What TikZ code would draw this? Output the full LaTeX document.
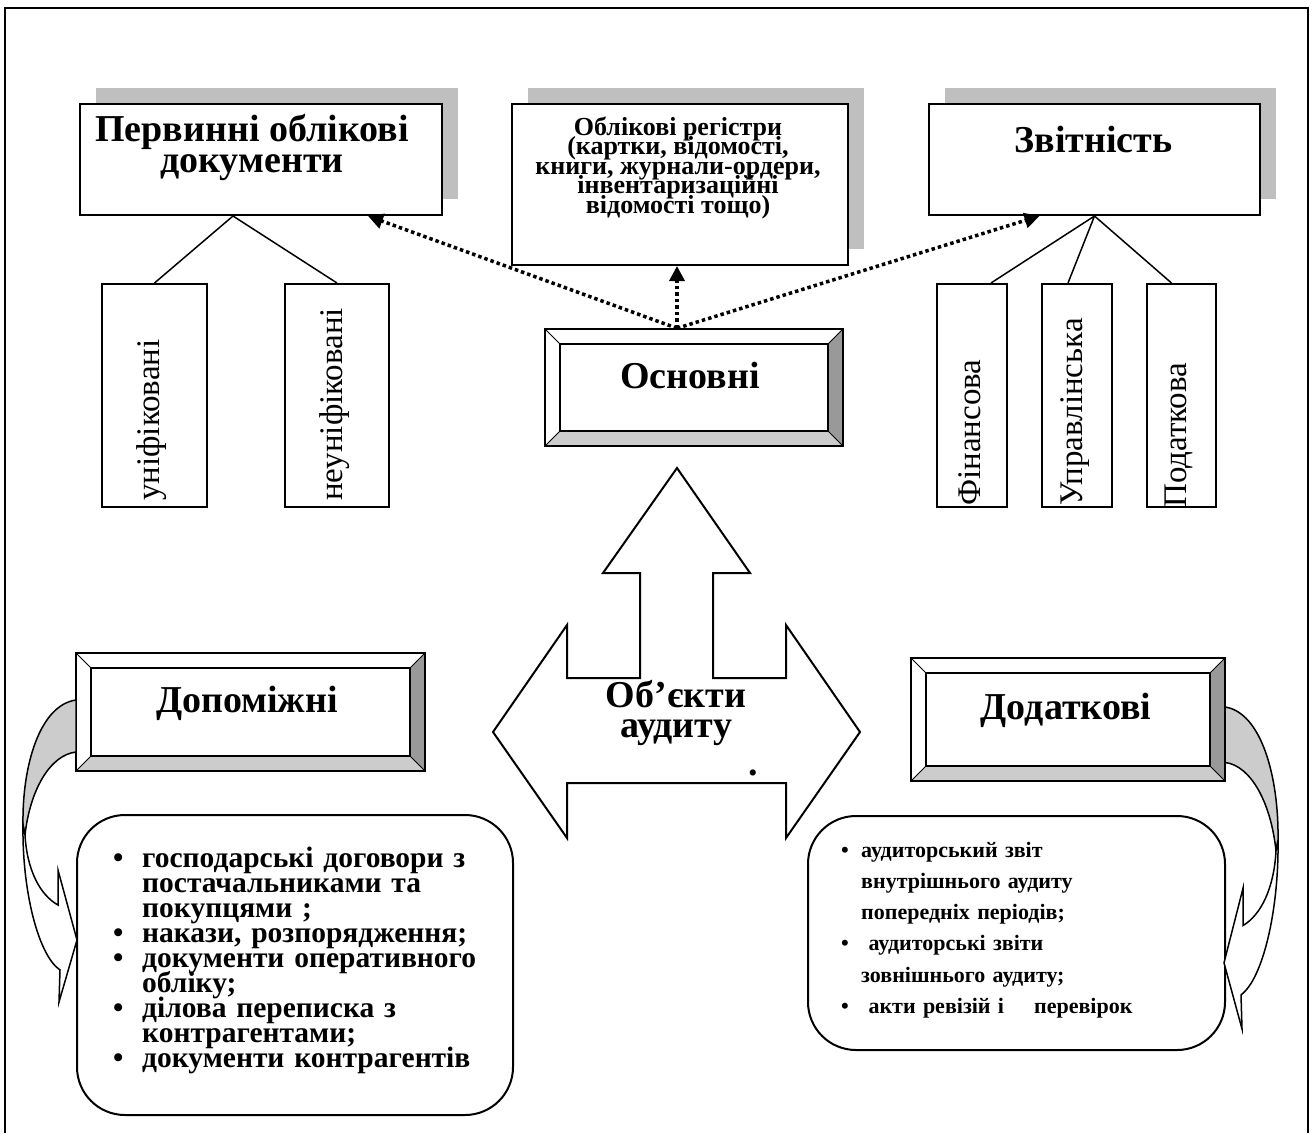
\documentclass[tikz,border=0pt]{standalone}
\usepackage{fontspec}
\setmainfont{Liberation Serif}
\usetikzlibrary{positioning,arrows.meta,shadows}
\setlength{\lineskiplimit}{-1000pt}
\newcommand\bulmark[1]{\makebox[#1][l]{•}}

\tikzset{
  box/.style={draw, line width=2pt, fill=white, inner sep=0pt},
  topbox/.style={box, general shadow={fill=gray!50, shadow xshift=16pt, shadow yshift=16pt}},
  sidebox/.style={box, minimum height=223pt},
  bevel/.style={box, line width=1.5pt, path picture={
      \coordinate (nw) at (path picture bounding box.north west);
      \coordinate (ne) at (path picture bounding box.north east);
      \coordinate (sw) at (path picture bounding box.south west);
      \coordinate (se) at (path picture bounding box.south east);
      \fill[gray!80] (ne) -- (se) -- ([xshift=-15pt,yshift=15pt]se) -- ([xshift=-15pt,yshift=-15pt]ne) -- cycle;
      \fill[gray!40] (sw) -- (se) -- ([xshift=-15pt,yshift=15pt]se) -- ([xshift=15pt,yshift=15pt]sw) -- cycle;
      \draw[line width=1.5pt] ([xshift=15pt,yshift=-15pt]nw) rectangle ([xshift=-15pt,yshift=15pt]se);
      \draw[line width=1pt] (nw) -- ([xshift=15pt,yshift=-15pt]nw) (ne) -- ([xshift=-15pt,yshift=-15pt]ne)
        (sw) -- ([xshift=15pt,yshift=15pt]sw) (se) -- ([xshift=-15pt,yshift=15pt]se);
    }},
  listbox/.style={box, rounded corners=48pt},
  title/.style={font=\fontsize{38}{31}\selectfont\bfseries, align=center, inner sep=0pt, anchor=base},
  regtxt/.style={font=\fontsize{26}{19.5}\selectfont\bfseries, align=center, inner sep=0pt, anchor=base},
  sidetxt/.style={font=\fontsize{33}{36}\selectfont, rotate=90, anchor=west, inner sep=0pt},
  listtxt/.style={inner sep=0pt, anchor=base west, align=left, text width=420pt},
  dotarrow/.style={line width=3.5pt, dash pattern=on 3.5pt off 3pt, -{Triangle[length=15pt,width=15pt]}},
  curl/.style={line width=1.5pt}
}

\begin{document}
\begin{tikzpicture}[x=1pt,y=-1pt]
\useasboundingbox (0,0) rectangle (1314,1133);
\draw[line width=2pt] (5,1133) -- (5,8) -- (1308,8) -- (1308,1133);

% top row
\node[topbox, minimum width=362pt, minimum height=111pt] (prim) at (261,159.5) {};
\node[topbox, minimum width=336pt, minimum height=161pt] (regs) at (680,184.5) {};
\node[topbox, minimum width=331pt, minimum height=111pt] (zvit) at (1094.5,159.5) {};
\node[title] (primtxt) at (252,172) {Первинні облікові\\документи};
\node[regtxt] (regstxt) at (678,213) {Облікові регістри\\(картки, відомості,\\книги, журнали-ордери,\\інвентаризаційні\\відомості тощо)};
\node[title] (zvittxt) at (1093.5,152) {Звітність};

% kinds of documents and reports
\node[sidebox, minimum width=105pt] (unif) at (154.5,395.5) {};
\node[sidebox, minimum width=104pt] (neunif) at (337,395.5) {};
\node[sidebox, minimum width=70pt] (fin) at (972,395.5) {};
\node[sidebox, minimum width=70pt] (upr) at (1077,395.5) {};
\node[sidebox, minimum width=69pt] (pod) at (1181.5,395.5) {};
\node[sidetxt] (uniftxt) at (152,501) {уніфіковані};
\node[sidetxt] (neuniftxt) at (335,501) {неуніфіковані};
\node[sidetxt] (fintxt) at (970,506) {Фінансова};
\node[sidetxt] (uprtxt) at (1075,506) {Управлінська};
\node[sidetxt] (podtxt) at (1179,508) {Податкова};

\draw[line width=1.5pt] (unif.north) -- ([xshift=-28pt]prim.south) -- (neunif.north);
\draw[line width=1.5pt] ([xshift=19pt]fin.north) -- (zvit.south) -- ([xshift=-9pt]upr.north);
\draw[line width=1.5pt] (zvit.south) -- ([xshift=-10pt]pod.north);

% main objects
\node[bevel, minimum width=298pt, minimum height=117pt] (osn) at (694,387.5) {};
\node[title] (osntxt) at (690,388) {Основні};
\coordinate (src) at ([xshift=-17pt]osn.north);
\draw[dotarrow] (src) -- ([xshift=-75pt]prim.south east);
\draw[dotarrow] (src) -- ([xshift=-3pt]regs.south);
\draw[dotarrow] (src) -- ([xshift=-55pt]zvit.south);

% big arrow
\draw[line width=2pt, fill=white] (677,468) -- (750,573) -- (713,573) -- (713,678) -- (786,678)
  -- (786,625) -- (860,732) -- (786,838) -- (786,783) -- (567,783) -- (567,838) -- (493,732)
  -- (567,625) -- (567,678) -- (640,678) -- (640,573) -- (603,573) -- cycle;
\node[title, font=\fontsize{38}{30}\selectfont\bfseries] (obj) at (676,737) {Об’єкти\\аудиту};
\node[title] (dot) at (753,775) {.};

% auxiliary and additional
\node[bevel, minimum width=349pt, minimum height=118pt] (dop) at (250.5,712) {};
\node[title] (doptxt) at (247,712) {Допоміжні};
\node[bevel, minimum width=314pt, minimum height=123pt] (dod) at (1068,719.5) {};
\node[title] (dodtxt) at (1066,719) {Додаткові};

\node[listbox, minimum width=436pt, minimum height=300pt] (dopl) at (295,965) {};
\node[listtxt, font=\fontsize{29.5}{25}\selectfont\bfseries\setlength{\lineskiplimit}{-1000pt}] (dopltxt) at (113,867) {%
  \bulmark{29pt}господарські договори з\\
  \hspace*{29pt}постачальниками та\\
  \hspace*{29pt}покупцями ;\\
  \bulmark{29pt}накази, розпорядження;\\
  \bulmark{29pt}документи оперативного\\
  \hspace*{29pt}обліку;\\
  \bulmark{29pt}ділова переписка з\\
  \hspace*{29pt}контрагентами;\\
  \bulmark{29pt}документи контрагентів};

\node[listbox, minimum width=417pt, minimum height=234pt] (dodl) at (1016.5,933) {};
\node[listtxt, font=\fontsize{22}{31.3}\selectfont\bfseries\setlength{\lineskiplimit}{-1000pt}] (dodltxt) at (841,857) {%
  \bulmark{20pt}аудиторський звіт\\
  \hspace*{20pt}внутрішнього аудиту\\
  \hspace*{20pt}попередніх періодів;\\
  \bulmark{20pt}\ аудиторські звіти\\
  \hspace*{20pt}зовнішнього аудиту;\\
  \bulmark{20pt}\ акти ревізій і\hspace{30pt}перевірок};

% curved arrows
\foreach \sx/\dx/\sy/\dy in {1/0/1/0, -1/1301/1.066/39.2} {
  \begin{scope}[xshift=\dx pt, yshift=\dy pt, xscale=\sx, yscale=\sy]
    \draw[curl, fill=gray!40] (76,700) .. controls (40,705) and (22,765) .. (23,825) -- (25,835)
      .. controls (30,790) and (50,755) .. (76,752) -- cycle;
    \draw[curl, fill=white] (23,825) .. controls (22,890) and (38,955) .. (60,970) -- (59,1002)
      -- (77,940) -- (58,870) -- (58,905) .. controls (40,895) and (27,870) .. (25,835) -- cycle;
  \end{scope}
}
\end{tikzpicture}
\end{document}
